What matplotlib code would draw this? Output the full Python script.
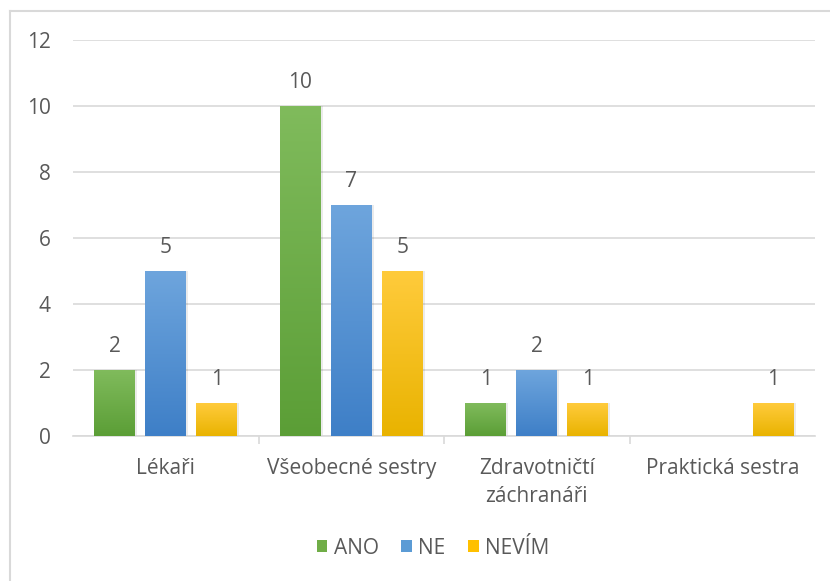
import matplotlib.pyplot as plt
import numpy as np
from matplotlib.colors import LinearSegmentedColormap
from matplotlib.patches import Rectangle, Patch

categories = ["Lékaři", "Všeobecné sestry", "Zdravotničtí\nzáchranáři", "Praktická sestra"]
series = ["ANO", "NE", "NEVÍM"]
ano = [2, 10, 1, 0]
ne = [5, 7, 2, 0]
nevim = [1, 5, 1, 1]

# top / bottom shades of each series gradient
shades = {
    "ANO": ("#80bb5c", "#5b9e36"),
    "NE": ("#6ea5dd", "#3e7fc7"),
    "NEVÍM": ("#ffcb3c", "#e9b300"),
}
legend_colors = {"ANO": "#70ad47", "NE": "#5b9bd5", "NEVÍM": "#ffc000"}
text_color = "#595959"
fs = 15

plt.rcParams['font.family'] = ['Open Sans', 'DejaVu Sans']

fig = plt.figure(figsize=(8.3, 5.81), dpi=100)
ax = fig.add_axes([73 / 830, 1 - 436 / 581, 742 / 830, 396 / 581])

# chart frame (light grey, open on the right and bottom)
fig.add_artist(plt.Line2D([9.5 / 830, 9.5 / 830], [0, 1 - 11 / 581],
                          transform=fig.transFigure, color="#d9d9d9", lw=1.5))
fig.add_artist(plt.Line2D([9.5 / 830, 1], [1 - 11 / 581, 1 - 11 / 581],
                          transform=fig.transFigure, color="#d9d9d9", lw=1.5))

x = np.arange(len(categories))
width = 0.22
step = 0.275
grad = np.linspace(0, 1, 256).reshape(-1, 1)

for i, (name, vals) in enumerate(zip(series, [ano, ne, nevim])):
    top, bottom = shades[name]
    cmap = LinearSegmentedColormap.from_list(name, [bottom, top])
    for xi, v in zip(x, vals):
        if v == 0:
            continue
        left = xi + (i - 1) * step - width / 2
        # soft shadow
        ax.add_patch(Rectangle((left + 0.012, 0), width, v, facecolor="#000000",
                               alpha=0.08, edgecolor="none", zorder=2))
        rect = Rectangle((left, 0), width, v, facecolor="none", edgecolor="none", zorder=3)
        ax.add_patch(rect)
        im = ax.imshow(grad, cmap=cmap, origin="lower", aspect="auto",
                       extent=[left, left + width, 0, v], zorder=3)
        im.set_clip_path(rect)
        ax.text(xi + (i - 1) * step, v + 0.38, str(v), ha="center", va="bottom",
                fontsize=fs, color=text_color)

ax.set_xlim(-0.5, len(categories) - 0.5)
ax.set_ylim(0, 12)
ax.set_yticks(range(0, 13, 2))
ax.grid(axis="y", color="#d9d9d9", lw=1.2, zorder=0)
ax.set_axisbelow(True)
for s in ["top", "right", "left"]:
    ax.spines[s].set_visible(False)
ax.spines["bottom"].set_color("#d9d9d9")
ax.spines["bottom"].set_linewidth(1.2)

ax.set_xticks(x)
ax.set_xticklabels(categories, fontsize=fs, color=text_color, linespacing=1.4)
ax.set_xticks(np.arange(0.5, len(categories) - 1, 1), minor=True)
ax.tick_params(axis="x", which="major", length=0, pad=16)
ax.tick_params(axis="x", which="minor", length=6, color="#d9d9d9", width=1.2)
ax.tick_params(axis="y", length=0, labelsize=fs, labelcolor=text_color, pad=16)

handles = [Patch(facecolor=legend_colors[n], label=n) for n in series]
fig.legend(handles=handles, loc="center", bbox_to_anchor=(433 / 830, 1 - 548 / 581),
           ncol=3, frameon=False, fontsize=fs, handlelength=0.5, handleheight=0.5,
           handletextpad=0.3, columnspacing=1.1, labelcolor=text_color)

fig.savefig("out.png", dpi=100, facecolor="white")
